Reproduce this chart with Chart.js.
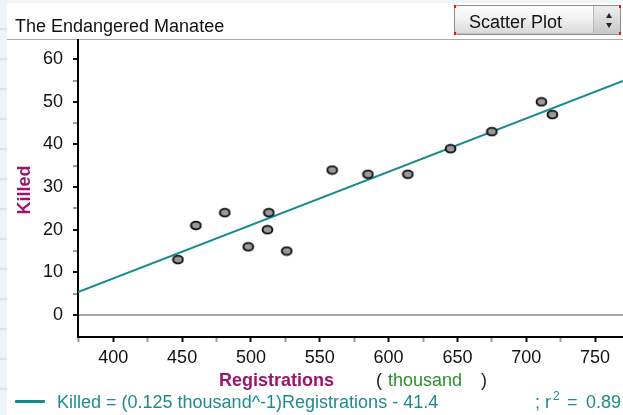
<!DOCTYPE html>
<html>
<head>
<meta charset="utf-8">
<title>The Endangered Manatee</title>
<script src="https://cdn.jsdelivr.net/npm/chart.js@4/dist/chart.umd.min.js"></script>
<style>
  html, body { margin: 0; padding: 0; }
  body {
    width: 623px; height: 415px; overflow: hidden; position: relative;
    background: #eef4f8;
    background-image: repeating-linear-gradient(180deg, rgba(200,220,235,0.0) 0px, rgba(200,220,235,0.0) 28px, rgba(212,227,239,0.8) 28px, rgba(212,227,239,0.8) 30px);
    font-family: "Liberation Sans", Arial, sans-serif;
  }
  #panel { position: absolute; left: 7px; top: 3px; right: 0; bottom: 0; background: #fff; }
  #sep { position: absolute; left: 7px; right: 0; top: 39px; height: 1px; background: #a9a9a9; }
  #chartBox { position: absolute; left: 0; top: 0; width: 623px; height: 415px; }
  .txt { position: absolute; white-space: nowrap; font-size: 18px; line-height: 18px; }
  #title { left: 15px; top: 17px; color: #111; }
  #popup {
    position: absolute; left: 454px; top: 5px; width: 167px; height: 30px;
    border: 1px solid #8d8d8d; border-radius: 4px; box-sizing: border-box;
    background: linear-gradient(#fdfdfd 0%, #f1f1f1 45%, #d8d8d8 100%);
    box-shadow: inset 0 -1px 0 #c4c4c4;
  }
  #popup .label { left: 14px; top: 7px; color: #111; }
  #popup .div { position: absolute; left: 138px; top: 0; bottom: 0; width: 1px; background: #b9b9b9; }
  #popup .btn { position: absolute; left: 139px; top: 0; right: 0; bottom: 0; border-radius: 0 3px 3px 0;
    background: linear-gradient(#eeeeee 0%, #dadada 50%, #c6c6c6 100%); }
  .arr { position: absolute; left: 151px; width: 0; height: 0; border-left: 3.5px solid transparent; border-right: 3.5px solid transparent; }
  .arr.up { top: 7px; border-bottom: 5px solid #222; }
  .arr.dn { top: 17px; border-top: 5px solid #222; }
  .mark { position: absolute; width: 2px; height: 3px; background: #f01010; }
  #ylab { left: -1px; top: 181px; width: 50px; text-align: center; font-weight: bold; color: #9b1470; transform: rotate(-90deg); }
  #xlab { left: 219px; top: 371px; font-weight: bold; color: #9b1470; }
  #unitOpen { left: 376px; top: 371px; color: #222; }
  #unit { left: 388px; top: 371px; color: #2b8f2b; }
  #unitClose { left: 481px; top: 371px; color: #222; }
  #legLine { position: absolute; left: 15px; top: 400px; width: 30px; height: 3px; background: #128a8a; border-radius: 1px; }
  #legText { left: 57px; top: 393px; color: #1b8c8c; }
  .r2 { top: 393px; color: #1b8c8c; }
  .r2sup { font-size: 12px; line-height: 12px; top: 390px; color: #1b8c8c; }
</style>
</head>
<body>
<div id="panel"></div>
<div id="sep"></div>
<div id="chartBox"><canvas id="chart" width="623" height="415"></canvas></div>

<div id="title" class="txt">The Endangered Manatee</div>
<div id="popup">
  <div class="txt label">Scatter Plot</div>
  <div class="div"></div>
  <div class="btn"></div>
  <div class="arr up"></div>
  <div class="arr dn"></div>
</div>
<div class="mark" style="left:454px;top:5px"></div>
<div class="mark" style="left:619px;top:5px"></div>
<div class="mark" style="left:454px;top:32px"></div>
<div class="mark" style="left:619px;top:32px"></div>

<div id="ylab" class="txt">Killed</div>
<div id="xlab" class="txt">Registrations</div>
<div id="unitOpen" class="txt">(</div>
<div id="unit" class="txt">thousand</div>
<div id="unitClose" class="txt">)</div>

<div id="legLine"></div>
<div id="legText" class="txt">Killed = (0.125 thousand^-1)Registrations - 41.4</div>
<div class="txt r2" style="left:535px">;</div>
<div class="txt r2" style="left:545px">r</div>
<div class="txt r2sup" style="left:553px">2</div>
<div class="txt r2" style="left:567px">=</div>
<div class="txt r2" style="left:586px">0.89</div>

<script>
// Florida powerboat registrations (thousands) and manatees killed by boats, one entry per year
const registrations = [447, 460, 481, 498, 513, 512, 526, 559, 585, 614, 645, 675, 711, 719];
const killed        = [13, 21, 24, 16, 24, 20, 15, 34, 33, 33, 39, 43, 50, 47];

// least-squares line shown in the legend
const slope = 0.125;
const intercept = -41.4;

// axis ticks (labelled every 50 / 10, small marks in between)
const xTickValues = [375, 400, 425, 450, 475, 500, 525, 550, 575, 600, 625, 650, 675, 700, 725, 750];
const xTickLabels = ['', '400', '', '450', '', '500', '', '550', '', '600', '', '650', '', '700', '', '750'];
const yTickValues = [0, 5, 10, 15, 20, 25, 30, 35, 40, 45, 50, 55, 60];
const yTickLabels = ['0', '', '10', '', '20', '', '30', '', '40', '', '50', '', '60'];

const X_MIN = 374.35, X_MAX = 770.3;
const Y_MIN = -5.16, Y_MAX = 64.5;

const points = registrations.map((r, i) => ({ x: r, y: killed[i] }));
const fitLine = [X_MIN, X_MAX].map(x => ({ x: x, y: slope * x + intercept }));

// slightly flattened grey dot with a dark rim
function makeDot() {
  const c = document.createElement('canvas');
  c.width = 13; c.height = 11;
  const g = c.getContext('2d');
  g.beginPath();
  g.ellipse(6.5, 5.5, 4.9, 3.9, 0, 0, Math.PI * 2);
  g.fillStyle = '#9a9a9a';
  g.fill();
  g.lineWidth = 1.9;
  g.strokeStyle = '#111';
  g.stroke();
  return c;
}

const FONT = { family: '"Liberation Sans", Arial, sans-serif', size: 18 };

function setTicks(values) {
  return scale => { scale.ticks = values.map(v => ({ value: v })); };
}
function labelFor(values, labels) {
  return v => { const i = values.indexOf(v); return i >= 0 ? labels[i] : ''; };
}

new Chart(document.getElementById('chart'), {
  type: 'scatter',
  data: {
    datasets: [
      {
        type: 'line',
        data: fitLine,
        borderColor: '#138c8c',
        borderWidth: 2,
        pointRadius: 0,
        fill: false,
        order: 2
      },
      {
        data: points,
        pointStyle: makeDot(),
        pointRadius: 5,
        order: 1
      }
    ]
  },
  options: {
    responsive: false,
    animation: false,
    events: [],
    layout: { autoPadding: false, padding: { top: 40, left: 0, right: 0, bottom: 0 } },
    plugins: { legend: { display: false }, tooltip: { enabled: false } },
    scales: {
      x: {
        type: 'linear',
        min: X_MIN,
        max: X_MAX,
        afterBuildTicks: setTicks(xTickValues),
        afterFit: s => { s.height = 78; s.paddingLeft = 0; s.paddingRight = 0; },
        border: { display: true, color: '#000', width: 2 },
        grid: {
          drawOnChartArea: false,
          drawTicks: true,
          tickLength: 5,
          tickWidth: 2,
          tickColor: ctx => (ctx.tick && ctx.tick.value % 50 === 0) ? '#111' : '#9a9a9a'
        },
        ticks: {
          autoSkip: false,
          maxRotation: 0,
          padding: 5,
          color: '#111',
          font: FONT,
          callback: labelFor(xTickValues, xTickLabels)
        }
      },
      y: {
        type: 'linear',
        min: Y_MIN,
        max: Y_MAX,
        afterBuildTicks: setTicks(yTickValues),
        afterFit: s => { s.width = 78; s.paddingTop = 0; s.paddingBottom = 0; },
        border: { display: true, color: '#000', width: 2 },
        grid: {
          drawOnChartArea: true,
          drawTicks: true,
          tickLength: 5,
          tickWidth: 2,
          color: ctx => (ctx.tick && ctx.tick.value === 0) ? '#a6a6a6' : 'rgba(0,0,0,0)',
          lineWidth: ctx => (ctx.tick && ctx.tick.value === 0) ? 2 : 0,
          tickColor: ctx => (ctx.tick && ctx.tick.value % 10 === 0) ? '#111' : '#9a9a9a'
        },
        ticks: {
          autoSkip: false,
          padding: 10,
          color: '#111',
          font: FONT,
          callback: labelFor(yTickValues, yTickLabels)
        }
      }
    }
  }
});
</script>
</body>
</html>
